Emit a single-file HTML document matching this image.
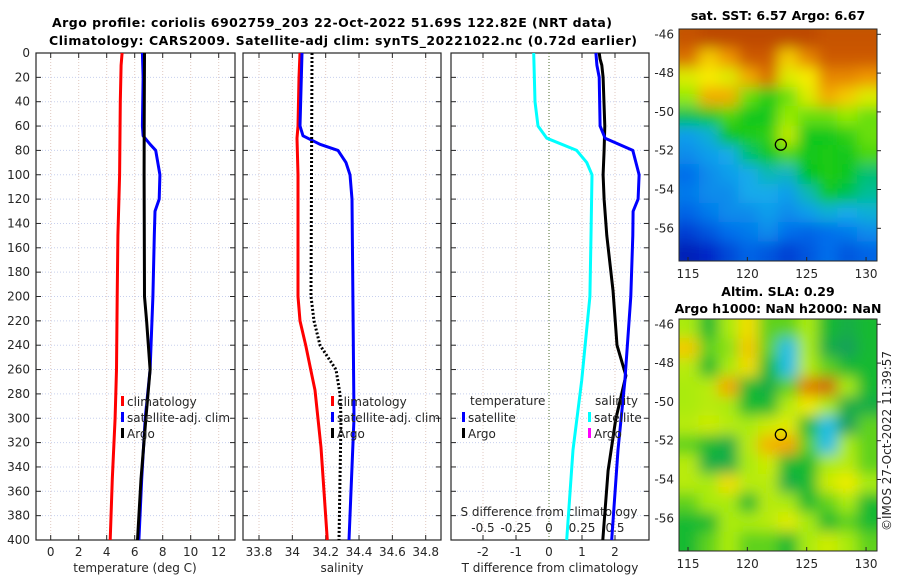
<!DOCTYPE html>
<html><head><meta charset="utf-8">
<style>
body{margin:0;background:#fff;}
svg{display:block;font-family:"DejaVu Sans","Liberation Sans",sans-serif;}
.tk{font-size:12px;fill:#262626;}
.tt{font-size:12.5px;font-weight:bold;fill:#000;}
</style></head>
<body>
<svg id="chart" width="900" height="580" viewBox="0 0 900 580" xmlns="http://www.w3.org/2000/svg">
<defs>
<filter id="blur" filterUnits="userSpaceOnUse" x="600" y="0" width="300" height="580"><feGaussianBlur stdDeviation="7"/></filter>
<clipPath id="clipA"><rect x="679" y="29" width="198" height="232"/></clipPath>
<clipPath id="clipB"><rect x="679" y="319" width="198" height="232"/></clipPath>
</defs>
<text class="tt" x="332" y="27" text-anchor="middle" textLength="560">Argo profile: coriolis 6902759_203 22-Oct-2022 51.69S 122.82E (NRT data)</text>
<text class="tt" x="343" y="45" text-anchor="middle" textLength="588">Climatology: CARS2009. Satellite-adj clim: synTS_20221022.nc (0.72d earlier)</text>
<g id="g"></g>
</svg>
<script>
// ---- Panel 1: temperature ----
const tempClimDepth=[0,10,40,100,150,200,260,300,350,400];
const tempClim=[5.1,5.03,4.97,4.92,4.8,4.75,4.7,4.6,4.4,4.25];
const tempSatDepth=[0,20,60,68,75,80,100,120,130,150,200,260,300,350,400];
const tempSat=[6.55,6.6,6.55,6.6,7.1,7.5,7.8,7.75,7.45,7.4,7.3,7.1,6.75,6.5,6.3];
const tempArgoDepth=[0,60,100,200,220,260,300,350,400];
const tempArgo=[6.7,6.68,6.67,6.7,6.85,7.1,6.8,6.45,6.2];
const tempTicks=[0,2,4,6,8,10,12];
// ---- Panel 2: salinity ----
const salClimDepth=[0,20,60,70,100,200,220,240,260,277,324,400];
const salClim=[34.046,34.04,34.034,34.028,34.034,34.034,34.046,34.08,34.11,34.136,34.172,34.21];
const salSatDepth=[0,60,68,75,80,90,100,120,300,400];
const salSat=[34.058,34.046,34.064,34.166,34.274,34.322,34.346,34.358,34.37,34.34];
const salArgoDepth=[0,200,220,240,250,260,280,300,400];
const salArgo=[34.118,34.112,34.13,34.166,34.214,34.262,34.286,34.292,34.28];
const salTicks=[33.8,34,34.2,34.4,34.6,34.8];
const salTickLabels=["33.8","34","34.2","34.4","34.6","34.8"];
// ---- Panel 3: differences ----
const dTSatDepth=[0,10,20,60,70,80,100,120,130,150,200,269,326,400];
const dTSat=[1.42,1.45,1.52,1.55,1.7,2.54,2.73,2.7,2.55,2.54,2.48,2.3,2.09,1.9];
const dTArgoDepth=[0,5,10,20,60,80,100,120,150,195,240,265,301,343,400];
const dTArgo=[1.52,1.55,1.6,1.64,1.69,1.67,1.64,1.67,1.75,1.94,2.06,2.33,2.02,1.79,1.63];
const dSSatDepth=[0,40,60,70,80,90,100,150,200,269,326,400];
const dSSat=[-0.116,-0.106,-0.083,-0.017,0.21,0.286,0.326,0.318,0.31,0.248,0.182,0.134];
const dTTicks=[-2,-1,0,1,2];
const dSTicks=[-0.5,-0.25,0,0.25,0.5];
const dSTickLabels=["-0.5","-0.25","0","0.25","0.5"];
const depthTicks=[0,20,40,60,80,100,120,140,160,180,200,220,240,260,280,300,320,340,360,380,400];
// ---- Maps ----
const lonTicks=[115,120,125,130];
const latTicks=[-46,-48,-50,-52,-54,-56];
const argoLon=122.82, argoLat=-51.69;
const sstGrid=[
[0.9,0.92,0.92,0.92,0.92,0.92,0.92,0.9,0.9,0.9],
[0.85,0.75,0.8,0.88,0.88,0.75,0.82,0.88,0.88,0.88],
[0.7,0.72,0.7,0.78,0.85,0.7,0.72,0.82,0.82,0.8],
[0.65,0.78,0.78,0.62,0.57,0.62,0.7,0.78,0.75,0.7],
[0.52,0.56,0.6,0.56,0.56,0.65,0.62,0.62,0.65,0.62],
[0.38,0.42,0.55,0.57,0.58,0.68,0.56,0.56,0.58,0.62],
[0.35,0.38,0.4,0.5,0.56,0.6,0.56,0.57,0.56,0.6],
[0.3,0.35,0.38,0.4,0.45,0.44,0.55,0.57,0.56,0.5],
[0.32,0.35,0.35,0.4,0.4,0.38,0.45,0.56,0.52,0.48],
[0.28,0.32,0.35,0.35,0.38,0.35,0.38,0.42,0.4,0.42],
[0.2,0.25,0.3,0.32,0.35,0.3,0.28,0.3,0.32,0.35],
[0.12,0.15,0.22,0.28,0.25,0.2,0.25,0.3,0.25,0.28]];
const slaGrid=[
[0.6,0.5,0.6,0.72,0.55,0.55,0.6,0.5,0.45,0.5],
[0.75,0.55,0.58,0.75,0.55,0.3,0.6,0.45,0.4,0.5],
[0.62,0.5,0.6,0.72,0.5,0.3,0.62,0.55,0.5,0.5],
[0.6,0.62,0.8,0.5,0.45,0.55,0.85,0.88,0.6,0.5],
[0.6,0.62,0.6,0.5,0.5,0.62,0.7,0.6,0.45,0.45],
[0.62,0.65,0.62,0.6,0.65,0.68,0.5,0.3,0.4,0.55],
[0.55,0.5,0.45,0.62,0.78,0.8,0.55,0.3,0.6,0.55],
[0.62,0.45,0.45,0.6,0.65,0.5,0.5,0.6,0.62,0.55],
[0.62,0.6,0.72,0.62,0.62,0.45,0.5,0.65,0.7,0.6],
[0.55,0.6,0.6,0.5,0.62,0.6,0.5,0.55,0.6,0.5],
[0.5,0.5,0.6,0.6,0.62,0.68,0.6,0.5,0.55,0.5],
[0.5,0.55,0.6,0.55,0.55,0.5,0.6,0.65,0.6,0.55]];

const NS="http://www.w3.org/2000/svg";
const G=document.getElementById('g');
function mk(tag,attrs,parent){const e=document.createElementNS(NS,tag);for(const k in attrs)e.setAttribute(k,attrs[k]);(parent||G).appendChild(e);return e;}
const Y0=53,Y1=540;
const yD=d=>Y0+d*(Y1-Y0)/400;
const xT=t=>50.7+t*14.0;
const xS=s=>259+(s-33.8)*166.7;
const xDT=t=>549+t*33;
const xDS=s=>549+s*132;

function frame(x0,x1,name){
  for(const d of depthTicks){if(d===0||d===400)continue;
    const l=mk('line',{x1:x0,x2:x1,y1:yD(d),y2:yD(d),stroke:'#c8d0ee','stroke-width':1,'stroke-dasharray':'1,2'});
    
    
    const a=mk('line',{x1:x0,x2:x0+5,y1:yD(d),y2:yD(d),stroke:'#262626'});
    
    
    const b=mk('line',{x1:x1-5,x2:x1,y1:yD(d),y2:yD(d),stroke:'#262626'});
    
    
  }
  const r=mk('rect',{x:x0,y:Y0,width:x1-x0,height:Y1-Y0,fill:'none',stroke:'#262626','stroke-width':1.2});
  
  
}
function vgrid(xs,x0,x1){for(const x of xs){
  const l=mk('line',{x1:x,x2:x,y1:Y0,y2:Y1,stroke:'#e0c8c0','stroke-width':1,'stroke-dasharray':'1,2'});
  
  
  const t=mk('line',{x1:x,x2:x,y1:Y1-5,y2:Y1,stroke:'#262626'});
  
  
  const t2=mk('line',{x1:x,x2:x,y1:Y0,y2:Y0+5,stroke:'#262626'});
  
  
}}
function series(depths,vals,xf,color,name,dash){
  const pts=depths.map((d,i)=>xf(vals[i]).toFixed(1)+','+yD(d).toFixed(1)).join(' ');
  const p=mk('polyline',{points:pts,fill:'none',stroke:color,'stroke-width':3,'stroke-linejoin':'round'});
  if(dash)p.setAttribute('stroke-dasharray',dash);
  
  
}
function txt(x,y,s,cls,anchor,name){const t=mk('text',{x:x,y:y,class:cls||'tk','text-anchor':anchor||'start'});t.textContent=s;
  
  return t;}
function legend(x,y,color,label,name){
  const r=mk('rect',{x:x,y:y-10,width:3,height:10,fill:color});
  
  
  txt(x+6,y,label,'tk','start',name);
}

// Panel 1
vgrid(tempTicks.map(xT),36,235);
frame(36,235,'temperature-panel');
for(const d of depthTicks) txt(30,yD(d)+4,String(d),'tk','end','depth-tick-label');
tempTicks.forEach(t=>txt(xT(t),556,String(t),'tk','middle','temp-tick-label'));
txt(135,572,'temperature (deg C)','tk','middle','x-axis-title-temperature');
series(tempClimDepth,tempClim,xT,'#ff0000','temp-climatology-line');
series(tempSatDepth,tempSat,xT,'#0000ff','temp-satellite-line');
series(tempArgoDepth,tempArgo,xT,'#000000','temp-argo-line');
legend(121,406,'#ff0000','climatology','legend-climatology');
legend(121,422,'#0000ff','satellite-adj. clim','legend-satellite');
legend(121,438,'#000000','Argo','legend-argo');

// Panel 2
vgrid(salTicks.map(xS),243,441);
frame(243,441,'salinity-panel');
salTicks.forEach((s,i)=>txt(xS(s),556,salTickLabels[i],'tk','middle','sal-tick-label'));
txt(342,572,'salinity','tk','middle','x-axis-title-salinity');
series(salClimDepth,salClim,xS,'#ff0000','sal-climatology-line');
series(salSatDepth,salSat,xS,'#0000ff','sal-satellite-line');
series(salArgoDepth,salArgo,xS,'#000000','sal-argo-line','2,2');
legend(331,406,'#ff0000','climatology','legend-climatology');
legend(331,422,'#0000ff','satellite-adj. clim','legend-satellite');
legend(331,438,'#000000','Argo','legend-argo');

// Panel 3
vgrid(dTTicks.filter(t=>t!==0).map(xDT),451,649);
frame(451,649,'difference-panel');
{const z=mk('line',{x1:xDT(0),x2:xDT(0),y1:Y0,y2:Y1,stroke:'#4a6a2a','stroke-width':1,'stroke-dasharray':'1,2'});

}
dTTicks.forEach(t=>txt(xDT(t),556,String(t),'tk','middle','dT-tick-label'));
txt(550,572,'T difference from climatology','tk','middle','x-axis-title-dT');
dSTicks.forEach((s,i)=>txt(xDS(s),532,dSTickLabels[i],'tk','middle','dS-tick-label'));
txt(549,516,'S difference from climatology','tk','middle','x-axis-title-dS');
series(dSSatDepth,dSSat,xDS,'#00ffff','dS-satellite-line');
series(dTArgoDepth,dTArgo,xDT,'#000000','dT-argo-line');
series(dTSatDepth,dTSat,xDT,'#0000ff','dT-satellite-line');
txt(470,405,'temperature','tk','start','legend-title-temperature');
legend(462,422,'#0000ff','satellite','legend-dT-satellite');
legend(462,438,'#000000','Argo','legend-dT-argo');
txt(595,405,'salinity','tk','start','legend-title-salinity');
legend(588,422,'#00ffff','satellite','legend-dS-satellite');
legend(588,438,'#ff00ff','Argo','legend-dS-argo');

// Maps
const sstStops=[[0,[0,0,120]],[0.15,[0,40,200]],[0.3,[0,110,235]],[0.4,[20,170,235]],[0.48,[0,190,150]],[0.55,[0,195,30]],[0.65,[150,235,0]],[0.72,[248,236,0]],[0.8,[240,150,0]],[0.88,[205,90,0]],[1,[160,40,0]]];
const slaStops=[[0,[0,0,150]],[0.2,[30,150,240]],[0.3,[30,190,230]],[0.4,[20,160,90]],[0.5,[20,185,50]],[0.6,[170,235,10]],[0.7,[240,236,0]],[0.8,[245,165,0]],[0.9,[200,90,10]],[1,[160,40,0]]];
function cmap(stops,v){for(let i=1;i<stops.length;i++){if(v<=stops[i][0]){const a=stops[i-1],b=stops[i];const f=(v-a[0])/(b[0]-a[0]);const c=a[1].map((x,j)=>Math.round(x+(b[1][j]-x)*f));return `rgb(${c})`;}}return `rgb(${stops[stops.length-1][1]})`;}
function map(top,grid,stops,clip,name,lat46y,lat56y){
  const x0=679,x1=877,y1=top+232;
  const lonX=l=>688+(l-115)*11.87;
  const latY=l=>lat46y+(-46-l)*(lat56y-lat46y)/10;
  const bg=mk('rect',{x:x0,y:top,width:198,height:232,fill:cmap(stops,0.6)});
  
  
  const g=mk('g',{'clip-path':`url(#${clip})`});
  const gi=mk('g',{filter:'url(#blur)'},g);
  const rows=grid.length,cols=grid[0].length,cw=198/cols,ch=232/rows;
  grid.forEach((row,r)=>row.forEach((v,c)=>{
    const cell=mk('rect',{x:(x0+c*cw-(c===0?12:0)).toFixed(1),y:(top+r*ch-(r===0?12:0)).toFixed(1),width:(cw+1+(c===0||c===cols-1?12:0)).toFixed(1),height:(ch+1+(r===0||r===rows-1?12:0)).toFixed(1),fill:cmap(stops,v)},gi);
    
    
  }));
  const fr=mk('rect',{x:x0,y:top,width:198,height:232,fill:'none',stroke:'#262626','stroke-width':1});
  
  
  lonTicks.forEach(l=>{const t=mk('line',{x1:lonX(l),x2:lonX(l),y1:y1-4,y2:y1,stroke:'#262626'});
    
    
    txt(lonX(l),y1+17,String(l),'tk','middle','lon-tick-label');});
  latTicks.forEach(l=>{const t=mk('line',{x1:x1,x2:x1+4,y1:latY(l),y2:latY(l),stroke:'#262626'});
    
    
    txt(674,latY(l)+4,String(l),'tk','end','lat-tick-label');});
  const c=mk('circle',{cx:lonX(argoLon),cy:latY(argoLat),r:5.5,fill:'none',stroke:'#000','stroke-width':1.3});
  
  
}
map(29,sstGrid,sstStops,'clipA','sst-map',34.3,228.3);
map(319,slaGrid,slaStops,'clipB','sla-map',324.3,518.3);
txt(778,20,'sat. SST: 6.57 Argo: 6.67','tt','middle','sst-map-title');
txt(778,296,'Altim. SLA: 0.29','tt','middle','sla-map-title');
txt(778,313,'Argo h1000: NaN h2000: NaN','tt','middle','sla-map-subtitle');
{const t=txt(0,0,'©IMOS 27-Oct-2022 11:39:57','tk','middle','copyright-stamp');t.setAttribute('transform','translate(891,441) rotate(-90)');}
</script>
</body></html>
